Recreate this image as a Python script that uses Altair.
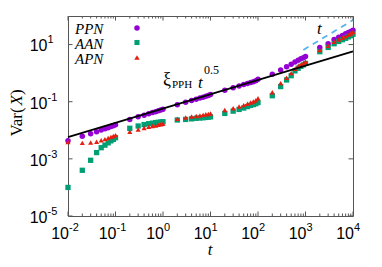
import altair as alt
import pandas as pd

# ---------------- data ----------------
t_vals = [k * 10.0 ** n for n in range(-2, 4) for k in range(1, 10)] + [1e4]

ppn_log10 = [-2.37, -2.21, -2.12, -2.05, -1.99, -1.95, -1.91, -1.87, -1.84,
             -1.81, -1.62, -1.53, -1.47, -1.42, -1.38, -1.35, -1.32, -1.29,
             -1.26, -1.11, -1.02, -0.96, -0.91, -0.87, -0.84, -0.81, -0.78,
             -0.75, -0.60, -0.51, -0.45, -0.40, -0.36, -0.33, -0.30, -0.27,
             -0.21, -0.04, 0.11, 0.22, 0.31, 0.39, 0.45, 0.50, 0.54,
             0.58, 0.90, 1.03, 1.18, 1.26, 1.32, 1.38, 1.42, 1.46,
             1.50]
aan_log10 = [-4.00, -3.40, -3.05, -2.78, -2.61, -2.52, -2.44, -2.37, -2.32,
             -2.26, -1.93, -1.85, -1.80, -1.77, -1.75, -1.73, -1.72, -1.71,
             -1.70, -1.64, -1.62, -1.60, -1.58, -1.57, -1.56, -1.55, -1.54,
             -1.53, -1.41, -1.33, -1.27, -1.22, -1.17, -1.13, -1.10, -1.07,
             -1.03, -0.79, -0.47, -0.24, -0.09, 0.08, 0.17, 0.24, 0.29,
             0.34, 0.75, 0.90, 1.03, 1.11, 1.17, 1.22, 1.27, 1.31,
             1.36]
apn_log10 = [-2.41, -2.44, -2.43, -2.40, -2.35, -2.31, -2.27, -2.23, -2.20,
             -2.17, -2.05, -1.97, -1.92, -1.88, -1.85, -1.83, -1.81, -1.79,
             -1.77, -1.60, -1.55, -1.52, -1.50, -1.48, -1.46, -1.44, -1.43,
             -1.41, -1.29, -1.23, -1.17, -1.12, -1.07, -1.03, -0.99, -0.95,
             -0.88, -0.67, -0.35, -0.16, 0.00, 0.15, 0.25, 0.29, 0.34,
             0.40, 0.81, 0.96, 1.10, 1.18, 1.24, 1.29, 1.34, 1.39,
             1.44]

series_names = ["PPN", "AAN", "APN"]
series_colors = ["#9400D3", "#009E73", "#E51E10"]
series_shapes = ["circle", "square", "triangle-up"]
series_sizes = [30, 26, 30]

fit_t = [0.01, 1e4]          # xi_PPH t^0.5 line end points
fit_v = [0.00575, 5.75]
lin_t = [900, 1e4]           # t line end points
lin_v = [6.5, 72.0]

x_major = [0.01, 0.1, 1, 10, 100, 1000, 10000]
x_exp = ["-2", "-1", "0", "1", "2", "3", "4"]
x_minor = [k * 10.0 ** n for n in range(-2, 4) for k in range(2, 10)]
y_major = [1e-5, 1e-3, 1e-1, 10]
y_exp = ["-5", "-3", "-1", "1"]

# ---------------- build ----------------
W, H = 285, 200
FRAME = "#555555"
SANS = "Liberation Sans"
SERIF = "Liberation Serif"

rows = []
for name, vals in zip(series_names, [ppn_log10, aan_log10, apn_log10]):
    for t, lv in zip(t_vals, vals):
        rows.append({"t": t, "v": 10 ** lv, "series": name})
df = pd.DataFrame(rows)

xs = alt.Scale(type="log", domain=[0.01, 1e4], nice=False)
ys = alt.Scale(type="log", domain=[1e-5, 1e2], nice=False)
X = lambda f: alt.X(f, scale=xs, axis=None)
Y = lambda f: alt.Y(f, scale=ys, axis=None)

points = alt.Chart(df).mark_point(filled=True, opacity=1, strokeWidth=0).encode(
    x=X("t:Q"), y=Y("v:Q"),
    color=alt.Color("series:N", scale=alt.Scale(domain=series_names, range=series_colors), legend=None),
    shape=alt.Shape("series:N", scale=alt.Scale(domain=series_names, range=series_shapes), legend=None),
    size=alt.Size("series:O", scale=alt.Scale(domain=series_names, range=series_sizes), legend=None),
)

fit = alt.Chart(pd.DataFrame({"t": fit_t, "v": fit_v})).mark_line(
    color="black", strokeWidth=1.8).encode(x=X("t:Q"), y=Y("v:Q"))
lin = alt.Chart(pd.DataFrame({"t": lin_t, "v": lin_v})).mark_line(
    color="#56B4E9", strokeWidth=1.8, strokeDash=[6, 5]).encode(x=X("t:Q"), y=Y("v:Q"))

xmaj = pd.DataFrame({"t": x_major, "base": ["10"] * len(x_major), "exp": x_exp})
xmin = pd.DataFrame({"t": x_minor})
ymaj = pd.DataFrame({"v": y_major, "base": ["10"] * len(y_major), "exp": y_exp})

ticks = []
for d, ln in [(xmaj, 4.5), (xmin, 2.5)]:
    ticks.append(alt.Chart(d).mark_rule(color=FRAME, strokeWidth=1).encode(
        x=X("t:Q"), y=alt.value(H), y2=alt.value(H - ln)))
    ticks.append(alt.Chart(d).mark_rule(color=FRAME, strokeWidth=1).encode(
        x=X("t:Q"), y=alt.value(0), y2=alt.value(ln)))
ticks.append(alt.Chart(ymaj).mark_rule(color=FRAME, strokeWidth=1).encode(
    y=Y("v:Q"), x=alt.value(0), x2=alt.value(4.5)))
ticks.append(alt.Chart(ymaj).mark_rule(color=FRAME, strokeWidth=1).encode(
    y=Y("v:Q"), x=alt.value(W), x2=alt.value(W - 4.5)))

labels = [
    alt.Chart(xmaj).mark_text(align="right", baseline="alphabetic", dx=1, font=SANS, fontSize=16, color="black")
    .encode(x=X("t:Q"), y=alt.value(222.5), text="base:N"),
    alt.Chart(xmaj).mark_text(align="left", baseline="alphabetic", dx=1, font=SANS, fontSize=11, color="black")
    .encode(x=X("t:Q"), y=alt.value(215), text="exp:N"),
    alt.Chart(ymaj).mark_text(align="right", baseline="alphabetic", dy=6.8, font=SANS, fontSize=16, color="black")
    .encode(y=Y("v:Q"), x=alt.value(-20.5), text="base:N"),
    alt.Chart(ymaj).mark_text(align="left", baseline="alphabetic", dy=-1.2, font=SANS, fontSize=11, color="black")
    .encode(y=Y("v:Q"), x=alt.value(-20.5), text="exp:N"),
]

one = pd.DataFrame({"a": [0]})


def txt(s, x, y, size, style="normal", font=SERIF, angle=0, align="left"):
    kw = dict(text=s, align=align, baseline="alphabetic", font=font, fontSize=size,
              fontStyle=style, color="black")
    if angle:
        kw["angle"] = angle
    return alt.Chart(one).mark_text(**kw).encode(x=alt.value(x), y=alt.value(y))


annot = [
    # axis titles
    txt("Var(", -46, 120.6, 17, angle=270),
    txt("X", -46, 89.5, 17, style="italic", angle=270),
    txt(")", -46, 79.1, 17, angle=270),
    txt("t", 142, 238.5, 17, style="italic", align="center"),
    # line labels
    txt("ξ", 95, 69, 18),
    txt("PPH", 104, 72, 11),
    txt("t", 130, 72, 17, style="italic"),
    txt("0.5", 136, 58, 12),
    txt("t", 249, 18, 17, style="italic"),
]

legend = []
leg_text_y = [17.5, 32.5, 47.5]
leg_mark_y = [12, 26.5, 41.5]
for name, col, shp, sz, ty, my in zip(series_names, series_colors, series_shapes, series_sizes,
                                      leg_text_y, leg_mark_y):
    legend.append(txt(name, 7, ty, 15, style="italic"))
    legend.append(alt.Chart(one).mark_point(filled=True, opacity=1, strokeWidth=0, shape=shp,
                                            color=col, size=sz)
                  .encode(x=alt.value(69), y=alt.value(my)))

chart = alt.layer(points, fit, lin, *ticks, *labels, *annot, *legend).properties(
    width=W, height=H,
    autosize=alt.AutoSizeParams(type="none"),
    padding={"left": 60, "top": 8, "right": 21, "bottom": 43},
).configure_view(stroke=FRAME, strokeWidth=1)

chart.save("out.html", embed_options={"renderer": "svg", "actions": False})
